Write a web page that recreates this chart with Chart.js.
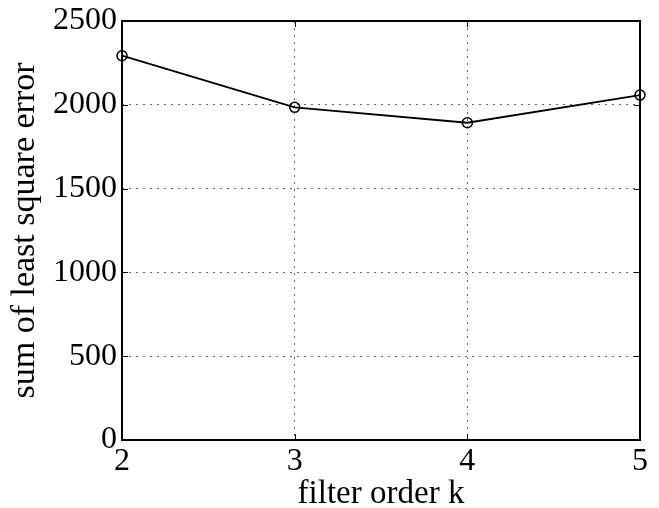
<!DOCTYPE html>
<html>
<head>
<meta charset="utf-8">
<script src="https://cdn.jsdelivr.net/npm/chart.js@4.4.1/dist/chart.umd.min.js"></script>
<style>
html,body{margin:0;padding:0;background:#fff;}
#wrap{width:659px;height:508px;position:relative;}
</style>
</head>
<body>
<div id="wrap"><canvas id="c" width="659" height="508"></canvas></div>
<script>
const filterOrders = [2, 3, 4, 5];
const lsqError = [2293, 1985, 1893, 2058];
const xTicks = [2, 3, 4, 5];
const yTicks = [0, 500, 1000, 1500, 2000, 2500];
const xTitle = 'filter order k';
const yTitle = 'sum of least square error';

const FONT = 'Liberation Serif, Times New Roman, serif';

const framePlugin = {
  id: 'frame',
  afterDatasetsDraw(chart) {
    const {ctx, chartArea: a, scales} = chart;
    ctx.save();
    ctx.strokeStyle = '#000';
    ctx.lineWidth = 1;
    const L = 6;
    ctx.beginPath();
    xTicks.forEach(v => {
      const px = Math.round(scales.x.getPixelForValue(v)) + 0.5;
      ctx.moveTo(px, a.bottom); ctx.lineTo(px, a.bottom - L);
      ctx.moveTo(px, a.top); ctx.lineTo(px, a.top + L);
    });
    yTicks.forEach(v => {
      const py = Math.round(scales.y.getPixelForValue(v)) + 0.5;
      ctx.moveTo(a.left, py); ctx.lineTo(a.left + L, py);
      ctx.moveTo(a.right, py); ctx.lineTo(a.right - L, py);
    });
    ctx.stroke();
    ctx.lineWidth = 2;
    ctx.strokeRect(a.left, a.top, a.right - a.left, a.bottom - a.top);
    ctx.restore();
  }
};

new Chart(document.getElementById('c'), {
  type: 'line',
  data: {
    datasets: [{
      data: filterOrders.map((x, i) => ({x: x, y: lsqError[i]})),
      borderColor: '#000',
      borderWidth: 1.8,
      pointStyle: 'circle',
      pointRadius: 5,
      pointBorderWidth: 1.5,
      pointBorderColor: '#000',
      pointBackgroundColor: 'rgba(0,0,0,0)',
      tension: 0,
      clip: false
    }]
  },
  options: {
    responsive: false,
    animation: false,
    layout: {padding: {top: 21, right: 19, left: 0, bottom: 0}},
    plugins: {legend: {display: false}, tooltip: {enabled: false}},
    scales: {
      x: {
        type: 'linear',
        min: 2, max: 5,
        afterFit(s) { s.height = 68; },
        afterBuildTicks(s) { s.ticks = xTicks.map(v => ({value: v})); },
        ticks: {color: '#000', font: {family: FONT, size: 32, lineHeight: 1}, padding: 6, maxRotation: 0,
                callback: v => String(v)},
        grid: {color: '#666', lineWidth: 1, drawTicks: false},
        border: {display: false, dash: [2, 5]},
        title: {display: true, text: xTitle, color: '#000', font: {family: FONT, size: 33, lineHeight: 1}, padding: {top: 0, bottom: -3}}
      },
      y: {
        type: 'linear',
        min: 0, max: 2500,
        afterFit(s) { s.width = 122; },
        afterBuildTicks(s) { s.ticks = yTicks.map(v => ({value: v})); },
        ticks: {color: '#000', font: {family: FONT, size: 32, lineHeight: 1}, padding: 5,
                callback: v => String(v)},
        grid: {color: '#666', lineWidth: 1, drawTicks: false},
        border: {display: false, dash: [2, 5]},
        title: {display: true, text: yTitle, color: '#000', font: {family: FONT, size: 34, lineHeight: 1}, padding: {top: 8.5, bottom: 0}}
      }
    }
  },
  plugins: [framePlugin]
});
</script>
</body>
</html>
